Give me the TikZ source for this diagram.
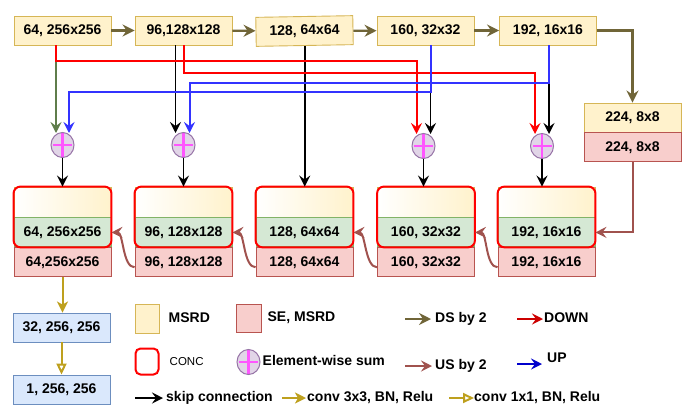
\documentclass[tikz,border=0pt]{standalone}
\usepackage{fontspec}
\setmainfont{Liberation Sans}
\usetikzlibrary{arrows.meta,positioning,fit,calc,shapes.geometric}

\definecolor{yelfill}{HTML}{FFF2CC}
\definecolor{yeldraw}{HTML}{D6B656}
\definecolor{pinkfill}{HTML}{F8CECC}
\definecolor{pinkdraw}{HTML}{B85450}
\definecolor{grnfill}{HTML}{D5E8D4}
\definecolor{grndraw}{HTML}{82B366}
\definecolor{bluefill}{HTML}{DAE8FC}
\definecolor{bluedraw}{HTML}{6C8EBF}
\definecolor{sumfill}{HTML}{E1D5E7}
\definecolor{sumdraw}{HTML}{9673A6}
\definecolor{pluscol}{HTML}{FF55FF}
\definecolor{dscol}{RGB}{112,101,56}
\definecolor{gskcol}{RGB}{95,125,75}
\definecolor{uscol}{RGB}{160,82,78}
\definecolor{goldcol}{RGB}{190,160,30}
\definecolor{upcol}{HTML}{3333FF}

\begin{document}
\begin{tikzpicture}[x=1pt, y=-1pt,
      blk/.style={draw, line width=0.9pt, minimum width=97pt, minimum height=29pt, inner sep=0pt,
        font=\bfseries\fontsize{14}{16}\selectfont},
      enc/.style={blk, fill=yelfill, draw=yeldraw},
      se/.style={blk, fill=pinkfill, draw=pinkdraw},
      grn/.style={blk, fill=grnfill, draw=grndraw},
      dtop/.style={blk, left color=white, right color=yelfill, draw=yeldraw, minimum height=30pt},
      outb/.style={blk, fill=bluefill, draw=bluedraw},
      conc/.style={draw=red, line width=2pt, rounded corners=7pt, inner sep=0pt},
      sum/.style={ellipse, draw=sumdraw, fill=sumfill, line width=1pt, minimum width=23pt,
        minimum height=25pt, inner sep=0pt,
        path picture={\draw[pluscol, line width=2.6pt, shorten <=2pt, shorten >=2pt]
          (path picture bounding box.north) -- (path picture bounding box.south)
          (path picture bounding box.west) -- (path picture bounding box.east);}},
      lab/.style={font=\bfseries\fontsize{14}{16}\selectfont, inner sep=0pt, anchor=west,
        text height=10pt, text depth=3pt},
      ds/.style={-{Stealth[length=12pt,width=12pt,inset=4pt]}, draw=dscol, line width=2.2pt},
      skp/.style={-{Stealth[length=11pt,width=11pt,inset=4pt]}, draw=black, line width=1.8pt},
      gsk/.style={skp, draw=gskcol},
      dn/.style={-{Stealth[length=11pt,width=11pt,inset=4pt]}, draw=red, line width=2pt},
      upl/.style={-{Stealth[length=11pt,width=11pt,inset=4pt]}, draw=upcol, line width=2pt},
      us/.style={-{Stealth[length=11pt,width=11pt,inset=4pt]}, draw=uscol, line width=2pt},
      c3/.style={-{Stealth[length=11pt,width=11pt,inset=3pt]}, draw=goldcol, line width=2pt},
      c1/.style={-{Triangle[open,fill=white,length=11pt,width=10pt]}, draw=goldcol, line width=2pt}]
    \useasboundingbox (0,0) rectangle (684,405);

    % encoder
    \node[enc] (e1) at (62.5,30.5) {64, 256x256};
    \node[enc] (e2) at (183.5,30.5) {96,128x128};
    \node[enc, rotate=1] (e3) at (304.5,31) {128, 64x64};
    \node[enc] (e4) at (425.5,30.5) {160, 32x32};
    \node[enc] (e5) at (548,30.5) {192, 16x16};
    \node[enc] (bt) at (632.5,117.5) {224, 8x8};
    \node[se, below=0pt of bt] (bp) {224, 8x8};

    % decoder
    \foreach \i/\x/\g/\p in {1/62.5/{64, 256x256}/{64,256x256}, 2/183.5/{96, 128x128}/{96, 128x128},
        3/304.5/{128, 64x64}/{128, 64x64}, 4/426/{160, 32x32}/{160, 32x32}, 5/546.5/{192, 16x16}/{192, 16x16}} {
      \node[dtop] (dy\i) at (\x,202) {};
      \node[grn, below=0pt of dy\i] (dg\i) {\g};
      \node[se, below=0pt of dg\i] (dp\i) {\p};
      \node[conc, fit=(dy\i)(dg\i)] (c\i) {};
    }

    \node[sum] (s1) at (62.5,145) {};
    \node[sum] (s2) at (183.5,145) {};
    \node[sum] (s3) at (423.5,146) {};
    \node[sum] (s4) at (542,146) {};

    \node[outb] (o1) at (61.5,327.5) {32, 256, 256};
    \node[outb] (o2) at (61.5,389.5) {1, 256, 256};

    % downsampling path
    \draw[ds] (e1) -- (e2);
    \draw[ds] (e2) -- (e3);
    \draw[ds] (e3) -- (e4);
    \draw[ds] (e4) -- (e5);
    \draw[ds] (e5.east) -| (bt.north);

    % skips, down and up links
    \draw[gsk] ([xshift=-6.5pt]e1.south) -- ([xshift=-6.5pt,yshift=-1pt]s1.north);
    \draw[skp] ([xshift=-8pt]e2.south) -- ([xshift=-8pt,yshift=-1pt]s2.north);
    \draw[skp] (e3.south) -- (e3.south |- dy3.north);
    \draw[skp] ([xshift=5pt]e4.south) -- ([xshift=7pt,yshift=-1pt]s3.north);
    \draw[skp] ([xshift=1pt]e5.south) -- ([xshift=7pt,yshift=-1pt]s4.north);
    \draw[dn] ([xshift=-6.5pt]e1.south) -- ++(0,16) -| ([xshift=-7pt,yshift=-1pt]s3.north);
    \draw[dn] (e2.south) -- ++(0,28) -| ([xshift=-7pt,yshift=-1pt]s4.north);
    \draw[upl] ([xshift=5pt]e4.south) -- ++(0,47) -| ([xshift=6.5pt,yshift=-1pt]s1.north);
    \draw[upl] ([xshift=1pt]e5.south) -- ++(0,38) -| ([xshift=6pt,yshift=-1pt]s2.north);

    \draw[skp] (s1.south) -- (s1.south |- dy1.north);
    \draw[skp] (s2.south) -- (s2.south |- dy2.north);
    \draw[skp] (s3.south) -- (s3.south |- dy4.north);
    \draw[skp] (s4.south) -- (s4.south |- dy5.north);

    % upsampling path
    \draw[us] (bp.south) |- (dg5.east);
    \foreach \i/\j in {1/2, 2/3, 3/4, 4/5}
      \draw[us] ([yshift=-5pt]dp\j.west) .. controls ([xshift=-12pt,yshift=-5pt]dp\j.west)
        and ([xshift=12pt]dg\i.east) .. (dg\i.east);

    % output head
    \draw[c3] (dp1.south) -- (dp1.south |- o1.north);
    \draw[c1] (o1) -- (o2);

    % legend
    \node[enc, minimum width=24pt, minimum height=29pt] (lg1) at (147,318.5) {};
    \node[lab, right=9pt of lg1] (lt1) {MSRD};
    \node[se, minimum width=25pt, minimum height=28pt] (lg2) at (248.5,318) {};
    \node[lab, right=6pt of lg2] (lt2) {SE, MSRD};
    \node[lab] (lt3) at (435,319) {DS by 2};
    \draw[ds, line width=2pt] ([xshift=-30pt]lt3.west) -- ([xshift=-4pt]lt3.west);
    \node[lab] (lt4) at (544,319) {DOWN};
    \draw[dn, draw=red!80!black] ([xshift=-27pt]lt4.west) -- ([xshift=-1pt]lt4.west);
    \node[conc, rounded corners=5pt, minimum width=23pt, minimum height=26pt] (lg3) at (147,361.5) {};
    \node[lab, font=\fontsize{11.5}{13}\selectfont, right=10pt of lg3] (lt5) {CONC};
    \node[sum] (lg4) at (248.5,362) {};
    \node[lab, right=2pt of lg4] (lt6) {Element-wise sum};
    \node[lab] (lt7) at (435,366) {US by 2};
    \draw[us] ([xshift=-30pt]lt7.west) -- ([xshift=-3pt]lt7.west);
    \node[lab] (lt8) at (547,359) {UP};
    \draw[upl, draw=blue!80!black] ([xshift=-30pt,yshift=-5pt]lt8.west) -- ([xshift=-5pt,yshift=-5pt]lt8.west);
    \node[lab] (lt9) at (166,398) {skip connection};
    \draw[skp] ([xshift=-31pt]lt9.west) -- ([xshift=-3pt]lt9.west);
    \node[lab] (lt10) at (307,398) {conv 3x3, BN, Relu};
    \draw[c3] ([xshift=-25pt]lt10.west) -- ([xshift=-1pt]lt10.west);
    \node[lab] (lt11) at (474,398) {conv 1x1, BN, Relu};
    \draw[c1] ([xshift=-25pt]lt11.west) -- (lt11.west);
  \end{tikzpicture}
\end{document}
